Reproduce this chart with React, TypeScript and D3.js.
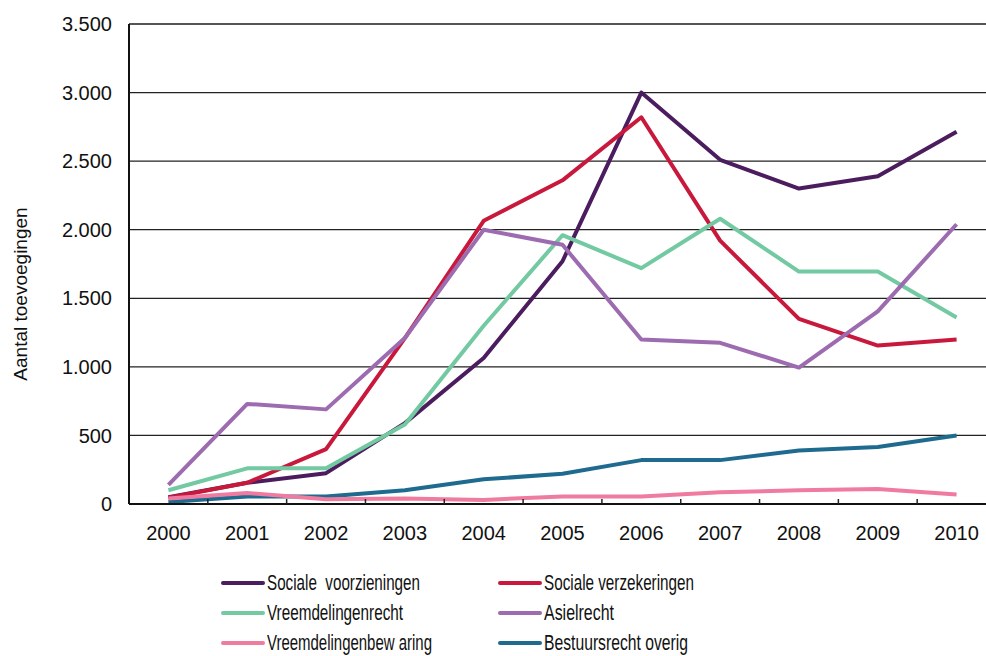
import * as d3 from 'd3';

// jaren en waarden
const years = ['2000', '2001', '2002', '2003', '2004', '2005', '2006', '2007', '2008', '2009', '2010'];

const socialeVoorzieningen = [50, 155, 225, 590, 1065, 1770, 3000, 2510, 2300, 2390, 2715];
const socialeVerzekeringen = [45, 155, 400, 1210, 2065, 2360, 2820, 1920, 1350, 1155, 1200];
const vreemdelingenrecht = [100, 260, 260, 580, 1300, 1960, 1720, 2080, 1695, 1695, 1360];
const asielrecht = [140, 730, 690, 1210, 2000, 1890, 1200, 1175, 995, 1405, 2040];
const vreemdelingenbewaring = [40, 80, 35, 40, 30, 55, 55, 85, 100, 110, 70];
const bestuursrechtOverig = [15, 55, 55, 100, 180, 220, 320, 320, 390, 415, 500];

const yTicks = [0, 500, 1000, 1500, 2000, 2500, 3000, 3500];

const series = [
  { name: 'Sociale  voorzieningen', values: socialeVoorzieningen, color: '#4b1c5e', w: 153 },
  { name: 'Sociale verzekeringen', values: socialeVerzekeringen, color: '#c8193c', w: 150 },
  { name: 'Vreemdelingenrecht', values: vreemdelingenrecht, color: '#72c9a2', w: 136 },
  { name: 'Asielrecht', values: asielrecht, color: '#9c6bb0', w: 70 },
  { name: 'Vreemdelingenbew aring', values: vreemdelingenbewaring, color: '#f07ba0', w: 165 },
  { name: 'Bestuursrecht overig', values: bestuursrechtOverig, color: '#1f6b8f', w: 144 },
];

// tekenvolgorde: teal onder roze
const drawOrder = [0, 1, 2, 3, 5, 4];

const W = 986;
const H = 656;
const left = 129;
const right = 996;
const top = 24;
const bottom = 504;
const font = '"Liberation Sans", Arial, sans-serif';

export default function App() {
  const x = d3.scaleBand().domain(years).range([left, right]);
  const y = d3.scaleLinear().domain([0, 3500]).range([bottom, top]);
  const cx = (yr: string) => (x(yr) as number) + x.bandwidth() / 2;

  const line = d3
    .line<number>()
    .x((_, i) => cx(years[i]))
    .y((d) => y(d));

  return (
    <svg width={W} height={H} style={{ position: 'absolute', left: 0, top: 0, background: '#fff' }} fontFamily={font}>
      {/* rasterlijnen */}
      {yTicks.filter((t) => t > 0 && t < 3500).map((t) => (
        <line key={t} x1={left} x2={right} y1={y(t)} y2={y(t)} stroke="#222" strokeWidth={1.2} />
      ))}
      <line x1={left} x2={right} y1={y(3500)} y2={y(3500)} stroke="#555" strokeWidth={2} />

      {/* y-as labels */}
      {yTicks.map((t) => (
        <text key={t} x={112} y={y(t)} dy="0.36em" textAnchor="end" fontSize={20} fill="#111">
          {d3.format(',')(t).replace(/,/g, '.')}
        </text>
      ))}
      <text
        transform={`translate(27,${(top + bottom) / 2 + 30}) rotate(-90)`}
        textAnchor="middle"
        fontSize={19}
        fill="#111"
      >
        Aantal toevoegingen
      </text>

      {/* lijnen */}
      {drawOrder.map((i) => (
        <path
          key={series[i].name}
          d={line(series[i].values) || ''}
          fill="none"
          stroke={series[i].color}
          strokeWidth={4}
          strokeLinejoin="round"
        />
      ))}

      {/* assen */}
      <line x1={left} x2={left} y1={top} y2={bottom} stroke="#111" strokeWidth={2} />
      <line x1={left} x2={right} y1={bottom} y2={bottom} stroke="#111" strokeWidth={2.2} />
      {years.slice(1).map((yr) => (
        <line key={yr} x1={x(yr)} x2={x(yr)} y1={bottom} y2={bottom - 5} stroke="#222" strokeWidth={1.5} />
      ))}
      {years.map((yr) => (
        <text key={yr} x={cx(yr)} y={540} textAnchor="middle" fontSize={20} fill="#111">
          {yr}
        </text>
      ))}

      {/* legenda */}
      {series.map((s, i) => {
        const col = i % 2;
        const row = Math.floor(i / 2);
        const lx = col === 0 ? 223 : 500;
        const ly = 583 + row * 30;
        return (
          <g key={s.name}>
            <line x1={lx} x2={lx + 40} y1={ly} y2={ly} stroke={s.color} strokeWidth={4} strokeLinecap="round" />
            <text
              x={lx + 44}
              y={ly + 6.5}
              fontSize={21.5}
              fill="#111"
              textLength={s.w}
              lengthAdjust="spacingAndGlyphs"
              style={{ whiteSpace: 'pre' }}
            >
              {s.name}
            </text>
          </g>
        );
      })}
    </svg>
  );
}
